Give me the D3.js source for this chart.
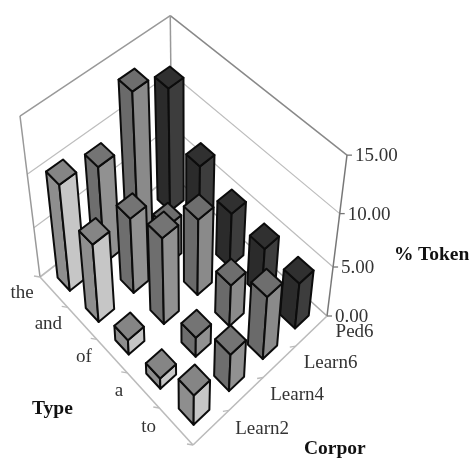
<!DOCTYPE html>
<html><head><meta charset="utf-8">
<script src="https://cdn.jsdelivr.net/npm/d3@7/dist/d3.min.js"></script>
<style>html,body{margin:0;padding:0;background:#fff;overflow:hidden}svg{display:block;filter:blur(0.4px)}
text{font-family:"Liberation Serif",serif;fill:#333;font-size:19px}
.title{font-weight:bold;font-size:19.5px;fill:#111}</style></head><body>
<svg id="c" width="472" height="459"></svg>
<script>
const types = ["the","and","of","a","to"];
const corpora = ["Learn2","Learn4","Learn6","Ped6"];
const zTicks = [0,5,10,15];
const learn2 = [10.3,7.7,1.5,1.1,3.1];
const learn4 = [9.4,7.4,8.5,2.0,3.8];
const learn6 = [13.7,3.9,7.5,4.2,6.3];
const ped6   = [11.8,7.2,5.4,4.9,4.6];
const series = [learn2,learn4,learn6,ped6];
const faceColors = [
  {left:"#8e8e8e",right:"#c6c6c6",top:"#858585"},
  {left:"#6e6e6e",right:"#919191",top:"#747474"},
  {left:"#6a6a6a",right:"#8a8a8a",top:"#6e6e6e"},
  {left:"#2b2b2b",right:"#3d3d3d",top:"#303030"}];

// floor corners of the 3D box
const Q = {left:[40,277],front:[193,445],right:[327,316],back:[172,175]};
const V = [186,1452];           // vertical vanishing point
const [x0,y0]=Q.left,[x1,y1]=Q.front,[x2,y2]=Q.right,[x3,y3]=Q.back;
const dx1=x1-x2,dx2=x3-x2,sx=x0-x1+x2-x3,dy1=y1-y2,dy2=y3-y2,sy=y0-y1+y2-y3;
const den=dx1*dy2-dx2*dy1;
const g=(sx*dy2-dx2*sy)/den,h=(dx1*sy-sx*dy1)/den;
const A=x1-x0+g*x1,B=x3-x0+h*x3,D=y1-y0+g*y1,E=y3-y0+h*y3;
const zE=-0.1205;

const tScale=d3.scaleBand().domain(types).range([0,1]).paddingInner(0.56).paddingOuter(0.28);
const cScale=d3.scaleBand().domain(corpora).range([0,1]).paddingInner(0.56).paddingOuter(0.28);
const zScale=d3.scaleLinear().domain([0,15]).range([0,1]);

function project(s,r,z){
  const w=g*s+h*r+1, fx=(A*s+B*r+x0)/w, fy=(D*s+E*r+y0)/w;
  const k=zE*zScale(z)/w;
  return [(fx+k*V[0])/(1+k),(fy+k*V[1])/(1+k)];
}
const svg=d3.select("#c");
const path=pts=>"M"+pts.map(p=>p.map(v=>v.toFixed(2)).join(",")).join("L")+"Z";
const seg=(a,b,col,wd)=>svg.append("line").attr("x1",a[0]).attr("y1",a[1]).attr("x2",b[0]).attr("y2",b[1]).attr("stroke",col).attr("stroke-width",wd);

// walls
zTicks.slice(1).forEach(z=>{
  const top=z===15;
  seg(project(0,0,z),project(0,1,z),top?"#999":"#bdbdbd",top?1.5:1.2);
  seg(project(0,1,z),project(1,1,z),top?"#888":"#bdbdbd",top?1.5:1.2);
});
seg(project(0,0,0),project(0,1,0),"#bbb",1.6);
seg(project(0,1,0),project(1,1,0),"#aaa",1.6);
seg(project(0,0,0),project(0,0,15),"#999",1.5);
seg(project(0,1,0),project(0,1,15),"#999",1.5);
seg(project(1,1,0),project(1,1,15),"#777",1.5);
seg(project(0,0,0),project(1,0,0),"#bbb",1.6);
seg(project(1,0,0),project(1,1,0),"#bbb",1.6);
// ticks
d3.range(0,6).forEach(i=>{const s=i/5;const a=project(s,0,0);seg(a,[a[0]-6,a[1]-1],"#bbb",1.3);});
d3.range(1,4).forEach(i=>{const r=i/4;const a=project(1,r,0);seg(a,[a[0]-6,a[1]+1],"#bbb",1.3);});
zTicks.forEach(z=>{const a=project(1,1,z);seg(a,[a[0]+5,a[1]],"#777",1.3);});

// bars, back to front
types.forEach((t,ti)=>{
  for(let ci=corpora.length-1;ci>=0;ci--){
    const v=series[ci][ti],c=faceColors[ci];
    const s0=tScale(t),s1=s0+tScale.bandwidth(),r0=cScale(corpora[ci]),r1=r0+cScale.bandwidth();
    const L=z=>project(s0,r0,z),F=z=>project(s1,r0,z),R=z=>project(s1,r1,z),B2=z=>project(s0,r1,z);
    const gr=svg.append("g").attr("stroke","#0c0c0c").attr("stroke-width",2).attr("stroke-linejoin","round");
    gr.append("path").attr("d",path([L(0),F(0),F(v),L(v)])).attr("fill",c.left);
    gr.append("path").attr("d",path([F(0),R(0),R(v),F(v)])).attr("fill",c.right);
    gr.append("path").attr("d",path([L(v),F(v),R(v),B2(v)])).attr("fill",c.top);
  }
});

// labels
types.forEach(t=>{
  const p=project(tScale(t)+tScale.bandwidth()/2,0,0);
  svg.append("text").attr("x",p[0]-20).attr("y",p[1]+6).attr("text-anchor","end").text(t);
});
corpora.forEach(cn=>{
  const p=project(1,cScale(cn)+cScale.bandwidth()/2,0);
  svg.append("text").attr("x",p[0]+24).attr("y",p[1]+6).text(cn);
});
zTicks.forEach((z)=>{
  const p=project(1,1,z);
  svg.append("text").attr("x",p[0]+8).attr("y",p[1]+6).text(z.toFixed(2));
});
svg.append("text").attr("class","title").attr("x",32).attr("y",414).text("Type");
svg.append("text").attr("class","title").attr("x",304).attr("y",454).text("Corpor");
svg.append("text").attr("class","title").attr("x",394).attr("y",260).text("% Token");
</script></body></html>
